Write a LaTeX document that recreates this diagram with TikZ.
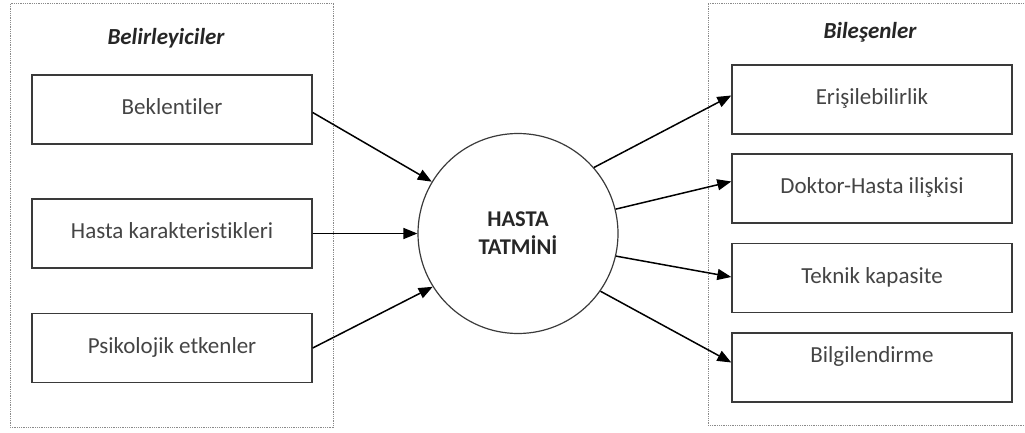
\documentclass[tikz,border=0pt]{standalone}
\usepackage{fontspec}
\setmainfont[Ligatures={NoCommon,NoRequired,NoContextual}]{Carlito}
\usetikzlibrary{arrows.meta,calc}
\definecolor{boxline}{HTML}{3A3A3A}
\definecolor{boxtext}{HTML}{444444}
\definecolor{dotline}{HTML}{8A8A8A}
\definecolor{titletext}{HTML}{262626}
\begin{document}
\begin{tikzpicture}[x=1pt,y=-1pt,
  itembox/.style={draw=boxline,line width=1.4pt,minimum width=280pt,minimum height=69pt,
    inner sep=0pt,font=\fontsize{23}{27}\selectfont,text=boxtext,text height=15pt,text depth=5pt},
  groupbox/.style={draw=dotline,line width=1pt,dash pattern=on 1pt off 0.8pt},
  grouptitle/.style={font=\fontsize{23}{27}\selectfont\bfseries\itshape,text=titletext,inner sep=0pt},
  hub/.style={circle,draw=boxline,line width=1.2pt,minimum size=200pt,inner sep=0pt,align=center,
    font=\fontsize{22.5}{28}\selectfont\bfseries,text=titletext},
  link/.style={line width=1.5pt,-{Triangle[length=14pt,width=11pt]}}]
\useasboundingbox (0,0) rectangle (1025,433);
\draw[groupbox] (10,4) rectangle (333,427);
\draw[groupbox] (708,4) rectangle (1030,425);
\node[grouptitle] (t1) at (166,38) {Belirleyiciler};
\node[grouptitle] (t2) at (870,32) {Bileşenler};
\node[itembox] (b1) at (172,109.5) {Beklentiler};
\node[itembox] (b2) at (172,233.5) {Hasta karakteristikleri};
\node[itembox] (b3) at (172,348) {Psikolojik etkenler};
\node[itembox] (r1) at (872,99.5) {Erişilebilirlik};
\node[itembox] (r2) at (872,188.5) {Doktor-Hasta ilişkisi};
\node[itembox] (r3) at (872,278) {Teknik kapasite};
\node[itembox,text depth=25pt] (r4) at (872,367.5) {Bilgilendirme};
\node[hub] (c) at (518,233.5) {HASTA\\TATMİNİ};
\draw[link] ([yshift=-3pt]b1.east) -- (c.149);
\draw[link] (b2.east) -- (c.180);
\draw[link] (b3.east) -- (c.212);
\draw[link] (c.41) -- ([yshift=4pt]r1.west);
\draw[link] (c.14) -- ([yshift=7pt]r2.west);
\draw[link] (c.-13) -- ([yshift=1pt]r3.west);
\draw[link] (c.-35) -- ([yshift=5pt]r4.west);
\end{tikzpicture}
\end{document}
